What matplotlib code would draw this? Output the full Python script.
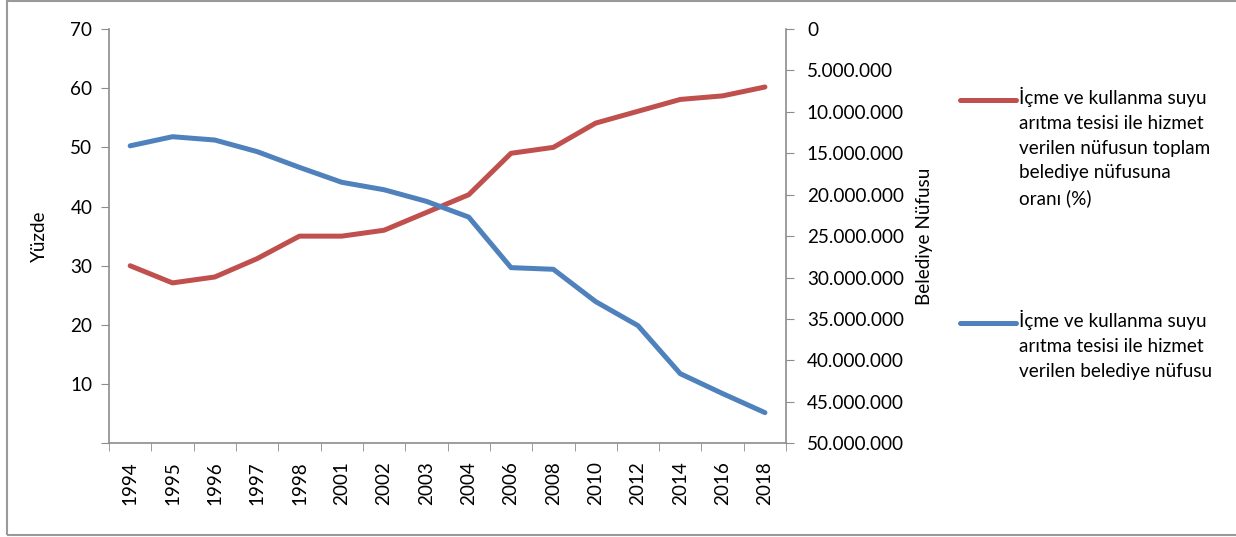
import numpy as np
import matplotlib.pyplot as plt
from matplotlib.lines import Line2D
from matplotlib.patches import Rectangle
from matplotlib.ticker import FuncFormatter

plt.rcParams['font.family'] = ['Lato', 'DejaVu Sans']

years = ['1994', '1995', '1996', '1997', '1998', '2001', '2002', '2003',
         '2004', '2006', '2008', '2010', '2012', '2014', '2016', '2018']
# hizmet verilen nüfusun toplam belediye nüfusuna oranı (%)
oran = [30.0, 27.1, 28.1, 31.2, 35.0, 35.0, 36.0, 39.0,
        42.0, 49.0, 50.0, 54.1, 56.1, 58.1, 58.7, 60.2]
# hizmet verilen belediye nüfusu
nufus = [14.1e6, 13.0e6, 13.4e6, 14.8e6, 16.7e6, 18.5e6, 19.4e6, 20.8e6,
         22.7e6, 28.8e6, 29.0e6, 32.9e6, 35.8e6, 41.6e6, 44.0e6, 46.3e6]

red = '#C0504D'
blue = '#4F81BD'
gray = '#8C8C8C'
fs = 13.6

fig = plt.figure(figsize=(12.36, 5.37), dpi=100)
ax = fig.add_axes([0.0882, 0.1745, 0.5478, 0.7715])
ax2 = ax.twinx()

x = np.arange(len(years))
ax.plot(x, oran, color=red, lw=3.6, solid_capstyle='round', zorder=3)
ax2.plot(x, nufus, color=blue, lw=3.6, solid_capstyle='round', zorder=3)

ax.set_xlim(-0.5, len(years) - 0.5)
ax.set_ylim(0, 70)
ax.set_yticks(np.arange(0, 71, 10))
ax.set_yticklabels([''] + [str(v) for v in range(10, 71, 10)])
ax2.set_ylim(50e6, 0)
ax2.set_yticks(np.arange(0, 50e6 + 1, 5e6))
ax2.yaxis.set_major_formatter(FuncFormatter(lambda v, p: f'{int(v):,}'.replace(',', '.')))

# category labels centred, tick marks on the boundaries
ax.set_xticks(x)
ax.set_xticklabels(years, rotation=90, fontsize=fs)
ax.set_xticks(np.arange(-0.5, len(years), 1), minor=True)
ax.tick_params(axis='x', which='major', length=0, pad=13)
ax.tick_params(axis='x', which='minor', length=6, color=gray, direction='out')

ax.tick_params(axis='y', labelsize=fs, length=6, color=gray, pad=6)
ax2.tick_params(axis='y', labelsize=fs, length=6, color=gray, pad=9)

for a in (ax, ax2):
    a.spines['top'].set_visible(False)
    for s in ('left', 'right', 'bottom'):
        a.spines[s].set_color(gray)
        a.spines[s].set_linewidth(1.2)
ax.spines['right'].set_visible(False)
ax2.spines['left'].set_visible(False)
ax2.spines['bottom'].set_visible(False)

ax.set_ylabel('Yüzde', fontsize=fs)
ax.yaxis.set_label_coords(-0.09, 0.5)
ax2.set_ylabel('Belediye Nüfusu', fontsize=fs)
ax2.yaxis.set_label_coords(1.192, 0.5)

# legend entries
entries = [
    (red, 100, 'İçme ve kullanma suyu\narıtma tesisi ile hizmet\nverilen nüfusun toplam\nbelediye nüfusuna\noranı (%)'),
    (blue, 323, 'İçme ve kullanma suyu\narıtma tesisi ile hizmet\nverilen belediye nüfusu'),
]
W, H = 1236, 537
for c, ypx, label in entries:
    yf = 1 - ypx / H
    fig.add_artist(Line2D([960 / W, 1016 / W], [yf, yf], color=c, lw=3.6,
                          solid_capstyle='round', transform=fig.transFigure))
    fig.text(1019 / W, yf + 13 / H, label, fontsize=fs, va='top', ha='left',
             linespacing=1.55)

fig.add_artist(Rectangle((7 / W, 1 - 535 / H), 1.0, 534 / H, fill=False,
                         edgecolor='#9A9A9A', lw=1.5, transform=fig.transFigure))

fig.savefig('out.png', dpi=100)
